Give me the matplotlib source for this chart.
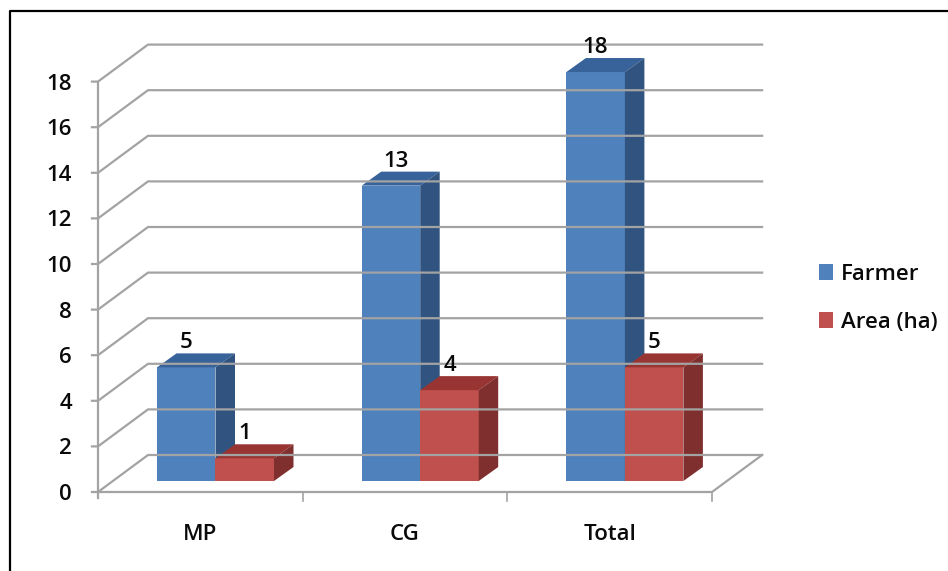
import matplotlib
matplotlib.use("Agg")
import matplotlib.pyplot as plt
from matplotlib.patches import Polygon, Rectangle

categories = ["MP", "CG", "Total"]
farmer = [5, 13, 18]
area = [1, 4, 5]
ticks = [0, 2, 4, 6, 8, 10, 12, 14, 16, 18]
series_names = ["Farmer", "Area (ha)"]

plt.rcParams['font.family'] = ['Open Sans', 'DejaVu Sans']

# box geometry, in figure pixels
x_front = 98
y_front = 492
x_back = 148
y_back = 455
unit = 22.8
bar_unit = 22.72
cat_w = 204.7
bar_w = 58.5
bar_floor = 481
dx, dy = 19.5, 14
grid_c = "#a3a3a3"
text_c = "#0a0a0a"
fs = 16
fw = "semibold"
text_dy = 2.5  # digits sit a bit high with va=center
farmer_nudge = [0, 5, 0]
blue = ("#4f81bd", "#37629a", "#30547f")
red = ("#c0504d", "#983533", "#7f302e")


def bar3d(ax, left, value, cols):
    top = bar_floor - value * bar_unit
    right = left + bar_w
    ax.add_patch(Rectangle((left, top), bar_w, value * bar_unit, fc=cols[0], ec="none"))
    ax.add_patch(Polygon([(left, top), (right, top), (right + dx, top - dy), (left + dx, top - dy)],
                         fc=cols[1], ec="none"))
    ax.add_patch(Polygon([(right, top), (right + dx, top - dy), (right + dx, bar_floor - dy), (right, bar_floor)],
                         fc=cols[2], ec="none"))
    return top


def label(ax, x, y, s, ha="center"):
    ax.text(x, y + text_dy, s, ha=ha, va="center", fontsize=fs, fontweight=fw, color=text_c)


fig = plt.figure(figsize=(9.48, 5.71), dpi=100)
ax = fig.add_axes([0, 0, 1, 1])
ax.set_xlim(0, 948)
ax.set_ylim(571, 0)
ax.axis("off")

# frame is only closed on the left and top
ax.plot([10, 10, 948], [571, 11, 11], color="black", lw=1.6)

n = len(categories)
x_end = x_front + cat_w * n - 0.1

# wall and floor lines
for t in ticks:
    yf = y_front - t * unit
    yb = y_back - t * unit
    ax.plot([x_front - 6, x_front, x_back, x_back + cat_w * n], [yf, yf, yb, yb], color=grid_c, lw=1.6)
    label(ax, x_front - 26, yf, str(t), ha="right")

ax.plot([x_front, x_front], [y_front - ticks[-1] * unit, y_front + 6], color=grid_c, lw=1.6)
ax.plot([x_front, x_end, x_back + cat_w * n], [y_front, y_front, y_back], color=grid_c, lw=1.6)

for i, name in enumerate(categories):
    x0 = x_front + cat_w * i
    ax.plot([x0 + cat_w, x0 + cat_w], [y_front, y_front + 9], color=grid_c, lw=1.2)
    label(ax, x0 + cat_w / 2, 532, name)

    left = x0 + 59
    for j, (vals, cols) in enumerate(((farmer, blue), (area, red))):
        bl = left + j * bar_w
        top = bar3d(ax, bl, vals[i], cols)
        nudge = farmer_nudge[i] if j == 0 else 0
        label(ax, bl + bar_w / 2 + nudge, top - 27, str(vals[i]))

# legend
for name, cols, yc in zip(series_names, (blue, red), (272, 320)):
    ax.add_patch(Rectangle((819, yc - 8), 14, 16, fc=cols[0], ec="none"))
    label(ax, 841, yc, name, ha="left")

fig.savefig("out.png", dpi=100)
